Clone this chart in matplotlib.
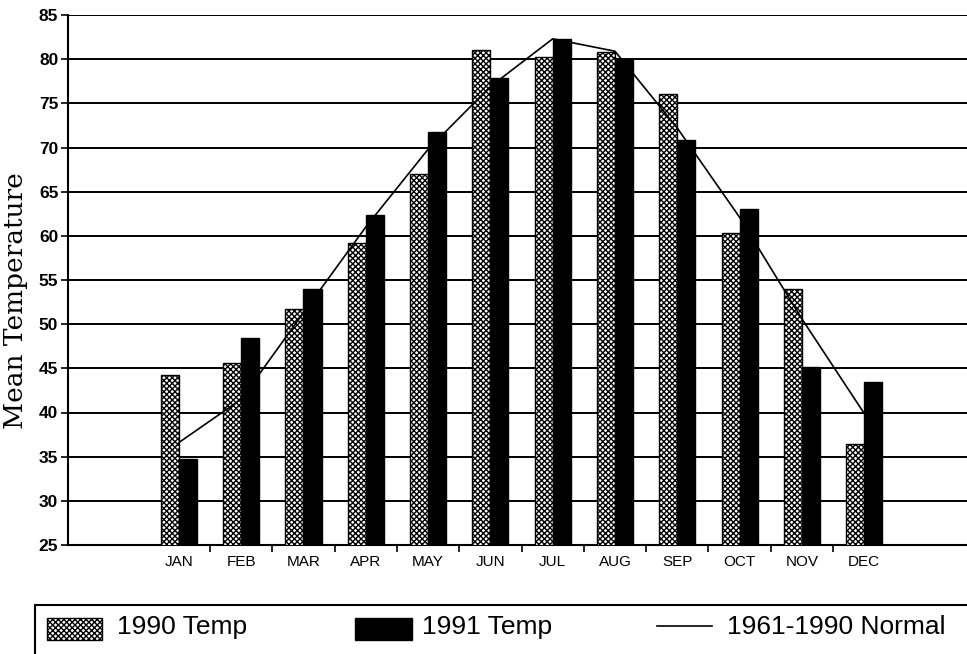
import matplotlib
matplotlib.use('Agg')
import numpy as np
import matplotlib.pyplot as plt
from matplotlib import ticker
from matplotlib.patches import Rectangle
from matplotlib.lines import Line2D

months = ['JAN', 'FEB', 'MAR', 'APR', 'MAY', 'JUN',
          'JUL', 'AUG', 'SEP', 'OCT', 'NOV', 'DEC']
temp_1990 = [44.3, 45.6, 51.7, 59.2, 67.0, 81.0, 80.2, 80.8, 76.1, 60.3, 54.0, 36.4]
temp_1991 = [34.7, 48.4, 54.0, 62.4, 71.8, 77.9, 82.3, 80.0, 70.8, 63.0, 45.1, 43.5]
normal = [36.6, 41.5, 51.3, 61.0, 69.8, 76.9, 82.3, 80.9, 72.2, 62.1, 50.6, 39.9]
legend_labels = ['1990 Temp', '1991 Temp', '1961-1990 Normal']

plt.rcParams['hatch.linewidth'] = 1.0
W, H = 967, 654
fig = plt.figure(figsize=(W / 100, H / 100), dpi=100)
ax = fig.add_axes([68 / W, 109 / H, 1.0, 530 / H])

x = np.arange(len(months))
width = 0.29
ax.bar(x - width / 2, temp_1990, width, color='white', edgecolor='black',
       hatch='xxxxxx', linewidth=1.0, zorder=3)
ax.bar(x + width / 2, temp_1991, width, color='black', edgecolor='black',
       linewidth=1.0, zorder=3)
ax.plot(x, normal, color='black', linewidth=1.2, zorder=4)

ax.set_xlim(-1.78, -1.78 + 1.0 * W / 62.3)
ax.set_ylim(25, 85)
ax.yaxis.set_major_locator(ticker.MultipleLocator(5))
ax.yaxis.grid(True, color='black', linewidth=1.4)
ax.set_axisbelow(True)

ax.set_xticks(x)
ax.set_xticklabels(months, fontsize=11, family='Liberation Sans')
ax.xaxis.set_minor_locator(ticker.FixedLocator(x[:-1] + 0.5))
ax.tick_params(axis='x', which='major', length=0, pad=7)
ax.tick_params(axis='x', which='minor', length=5, width=1.2, direction='out')
ax.tick_params(axis='y', length=5, width=1.2, pad=2, labelsize=12.5)
for lab in ax.get_yticklabels():
    lab.set_fontweight('bold')
    lab.set_family('Liberation Sans')

for s in ['top', 'right']:
    ax.spines[s].set_visible(False)
ax.spines['left'].set_linewidth(1.5)
ax.spines['bottom'].set_linewidth(1.5)

fig.text(16 / W, 1 - 301 / H, 'Mean Temperature', rotation=90, ha='center', va='center',
         fontsize=19, family='DejaVu Serif')

# legend box (runs off the page on the right and bottom)
fig.add_artist(Rectangle((35 / W, -0.1), 1.0, 0.1 + (H - 605) / H, transform=fig.transFigure,
                         facecolor='none', edgecolor='black', linewidth=1.5))
fig.add_artist(Rectangle((47 / W, 1 - 640 / H), 55 / W, 22 / H, transform=fig.transFigure,
                         facecolor='white', edgecolor='black', hatch='xxxxxx', linewidth=1.0))
fig.add_artist(Rectangle((355 / W, 1 - 640 / H), 57 / W, 22 / H, transform=fig.transFigure,
                         facecolor='black', edgecolor='black', linewidth=1.0))
fig.add_artist(Line2D([657 / W, 712 / W], [1 - 626 / H, 1 - 626 / H], transform=fig.transFigure,
                      color='black', linewidth=1.2))
for xpos, txt in zip([117, 422, 727], legend_labels):
    fig.text(xpos / W, 1 - 627 / H, txt, ha='left', va='center', fontsize=19,
             family='Liberation Sans')

fig.savefig('out.png', dpi=100)
